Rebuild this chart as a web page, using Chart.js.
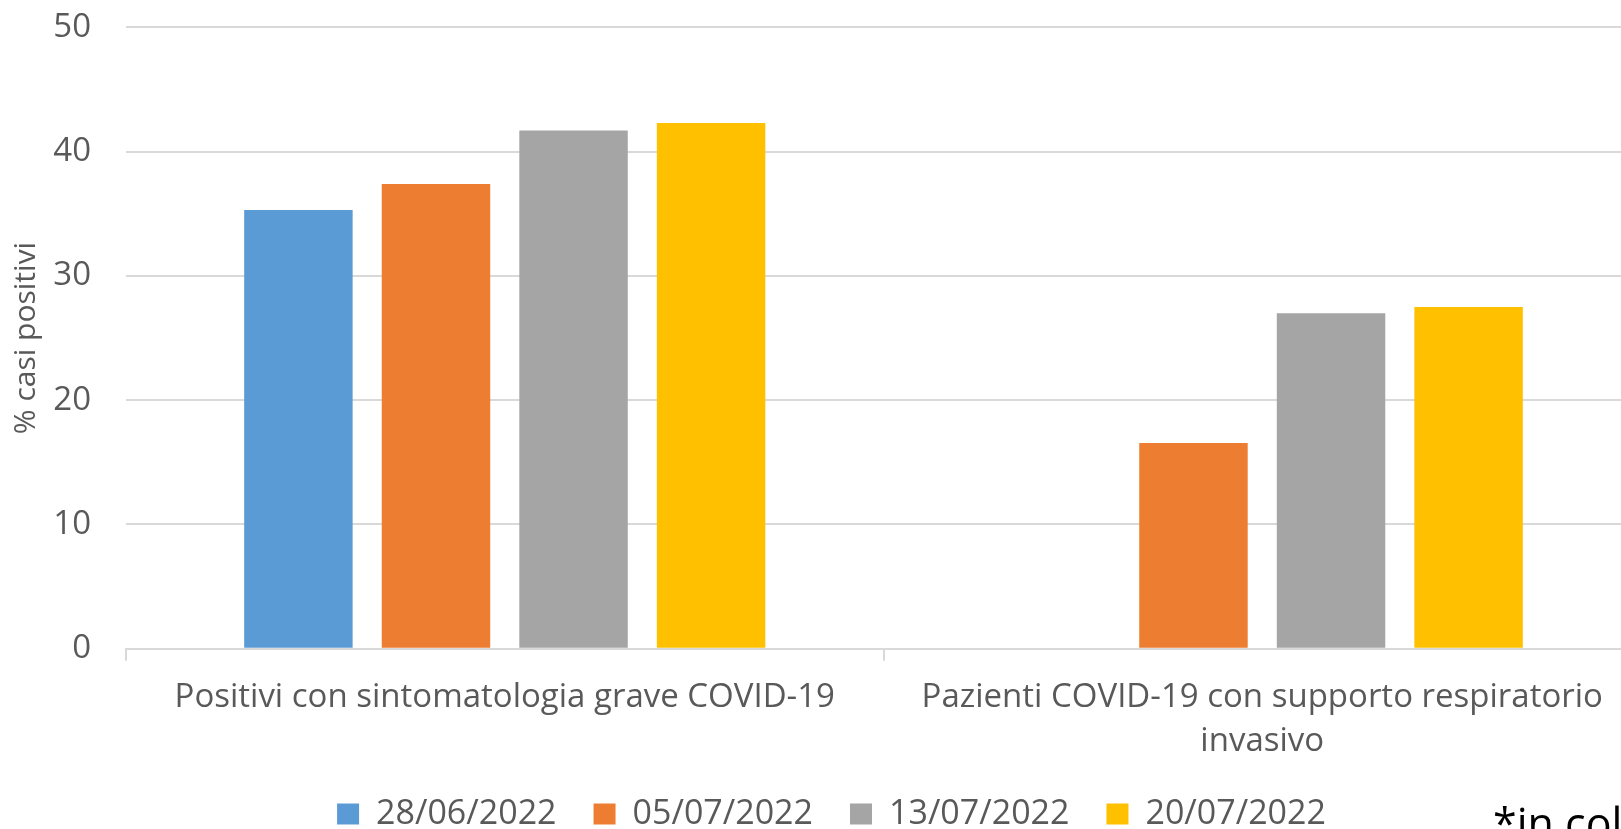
<!DOCTYPE html>
<html>
<head>
<meta charset="utf-8">
<script src="https://cdn.jsdelivr.net/npm/chart.js@4.4.0/dist/chart.umd.min.js"></script>
<style>
  html, body { margin: 0; padding: 0; background: #ffffff; overflow: hidden; width: 1621px; height: 829px; }
  #wrap { position: absolute; left: 0; top: 0; width: 1641px; height: 829px; }
  #note { position: absolute; left: 1493px; top: 801px; font-family: 'Open Sans', sans-serif; font-size: 43px; line-height: 1; color: #000000; white-space: nowrap; }
</style>
</head>
<body>
<div id="wrap"><canvas id="c" width="1641" height="829"></canvas></div>
<div id="note">*in collaborazione</div>
<script>
// ---- data ----
const categories = [
  "Positivi con sintomatologia grave COVID-19",
  ["Pazienti COVID-19 con supporto respiratorio", "invasivo"]
];
const seriesLabels = ["28/06/2022", "05/07/2022", "13/07/2022", "20/07/2022"];
const s_28_06 = [35.3, null];
const s_05_07 = [37.4, 16.55];
const s_13_07 = [41.7, 27.0];
const s_20_07 = [42.3, 27.5];
const yTicks = [0, 10, 20, 30, 40, 50];
const yTitle = "% casi positivi";

const colors = ["#5B9BD5", "#ED7D31", "#A5A5A5", "#FFC000"];
const seriesValues = [s_28_06, s_05_07, s_13_07, s_20_07];

Chart.defaults.font.family = "'Open Sans', sans-serif";
Chart.defaults.color = "#595959";

new Chart(document.getElementById('c'), {
  type: 'bar',
  data: {
    labels: categories,
    datasets: seriesValues.map((v, i) => ({
      label: seriesLabels[i],
      data: v,
      backgroundColor: colors[i],
      borderWidth: 0,
      categoryPercentage: 0.7264,
      barPercentage: 0.7885
    }))
  },
  options: {
    responsive: false,
    animation: false,
    layout: { autoPadding: false, padding: { top: 27.3, left: 22, right: 0, bottom: -12 } },
    plugins: {
      tooltip: { enabled: false },
      legend: {
        position: 'bottom',
        align: 'center',
        labels: {
          boxWidth: 22,
          boxHeight: 21,
          padding: 37,
          color: "#595959",
          font: { size: 34 }
        }
      }
    },
    scales: {
      x: {
        grid: { display: true, drawOnChartArea: false, drawTicks: true, tickLength: 12, color: '#d9d9d9', lineWidth: 2, offset: true },
        border: { display: true, color: '#d9d9d9', width: 2 },
        ticks: { color: '#595959', font: { size: 33, lineHeight: 1.333 }, padding: 15, maxRotation: 0, autoSkip: false },
        afterFit: (s) => { s.height = 111.3; s.paddingTop = 0; s.paddingBottom = 0; }
      },
      y: {
        min: 0,
        max: 50,
        afterBuildTicks: (s) => { s.ticks = yTicks.map(v => ({ value: v })); },
        grid: { color: '#d9d9d9', lineWidth: 2, drawTicks: false },
        border: { display: false },
        ticks: { color: '#595959', font: { size: 33 }, padding: 35 },
        title: { display: true, text: yTitle, color: '#595959', font: { size: 30 }, padding: { top: -14, bottom: 0 } },
        afterFit: (s) => { s.width = 104; s.paddingTop = 0; s.paddingBottom = 0; }
      }
    }
  }
});
</script>
</body>
</html>
